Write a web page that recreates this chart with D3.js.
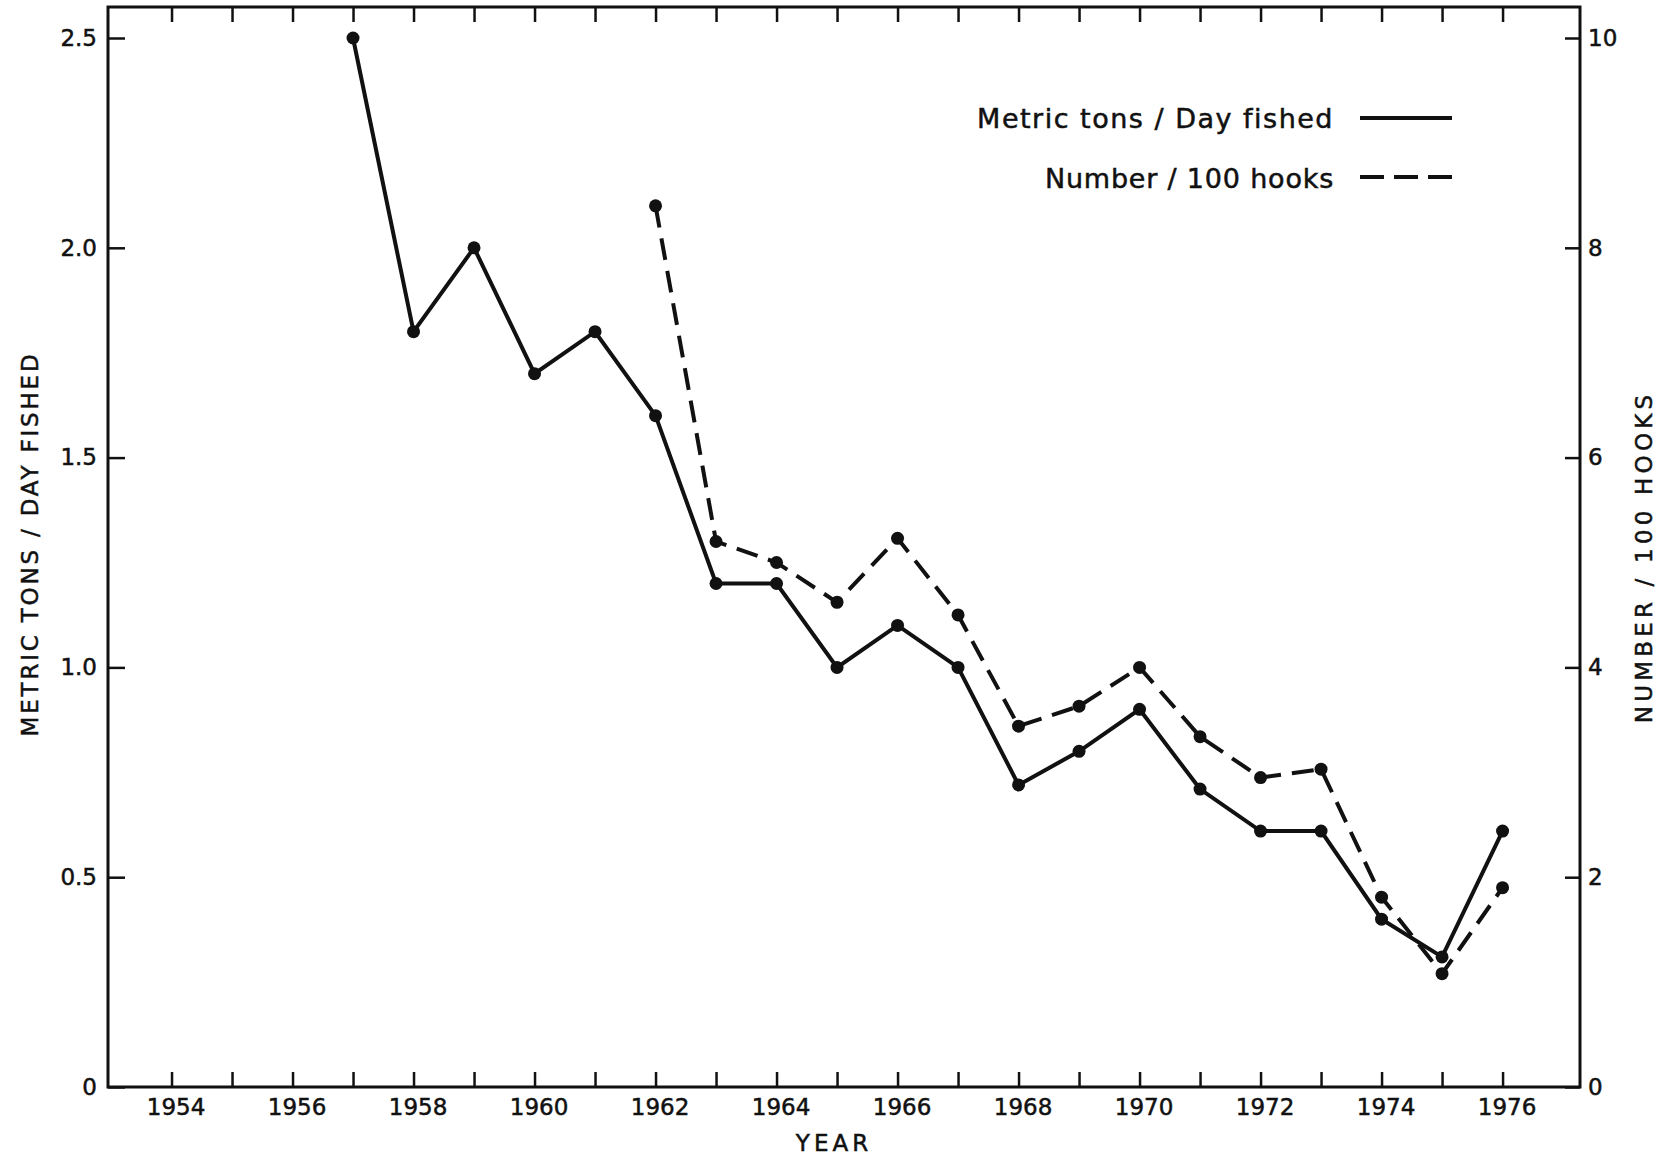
<!DOCTYPE html>
<html>
<head>
<meta charset="utf-8">
<script src="https://cdn.jsdelivr.net/npm/d3@7"></script>
<style>
  body { margin: 0; background: #fff; }
  svg { display: block; }
  text { font-family: "DejaVu Sans", sans-serif; fill: #111; stroke: #111; stroke-width: 0.5; }
</style>
</head>
<body>
<div id="chart"></div>
<script>
// catch per unit of effort
const tonsYears = d3.range(1957, 1977);
const tonsPerDay = [2.5, 1.8, 2.0, 1.7, 1.8, 1.6, 1.2, 1.2, 1.0, 1.1,
                    1.0, 0.72, 0.8, 0.9, 0.71, 0.61, 0.61, 0.4, 0.31, 0.61];
const hookYears = d3.range(1962, 1977);
const perHundredHooks = [8.4, 5.2, 5.0, 4.62, 5.23, 4.5, 3.44, 3.63, 4.0,
                         3.34, 2.95, 3.03, 1.81, 1.08, 1.9];

const yearTicks = d3.range(1954, 1977);
const leftTicks = [0, 0.5, 1.0, 1.5, 2.0, 2.5];
const rightTicks = [0, 2, 4, 6, 8, 10];

const width = 1665, height = 1157;
const plotL = 108, plotR = 1580, plotT = 7, plotB = 1087;

const svg = d3.select('#chart').append('svg')
    .attr('width', width).attr('height', height);

const x = d3.scaleLinear().domain([1952.95, 1977.28]).range([plotL, plotR]);
const yL = d3.scaleLinear().domain([0, 2.5]).range([plotB, 38]);
const yR = d3.scaleLinear().domain([0, 10]).range([plotB, 38]);

// frame
svg.append('rect')
    .attr('x', plotL).attr('y', plotT)
    .attr('width', plotR - plotL).attr('height', plotB - plotT)
    .attr('fill', 'none').attr('stroke', '#111').attr('stroke-width', 3);

function styleAxis(g) {
    g.select('.domain').remove();
    g.selectAll('.tick line').attr('stroke', '#111').attr('stroke-width', 2.5);
    g.selectAll('.tick text').attr('font-size', 23).attr('fill', '#111')
        .attr('font-family', '"DejaVu Sans", sans-serif');
}

svg.append('g').attr('transform', `translate(0,${plotB})`)
    .call(d3.axisBottom(x).tickValues(yearTicks).tickSize(-15).tickPadding(12)
        .tickFormat(d => d % 2 === 0 ? d : ''))
    .call(styleAxis)
    .selectAll('.tick text').attr('dx', 4);

svg.append('g').attr('transform', `translate(0,${plotT})`)
    .call(d3.axisTop(x).tickValues(yearTicks).tickSize(-15).tickFormat(''))
    .call(styleAxis);

svg.append('g').attr('transform', `translate(${plotL},0)`)
    .call(d3.axisLeft(yL).tickValues(leftTicks).tickSize(-17).tickPadding(11)
        .tickFormat(d => d === 0 ? '0' : d3.format('.1f')(d)))
    .call(styleAxis);

svg.append('g').attr('transform', `translate(${plotR},0)`)
    .call(d3.axisRight(yR).tickValues(rightTicks).tickSize(-15).tickPadding(8))
    .call(styleAxis);

// axis titles
svg.append('text')
    .attr('transform', 'translate(38,544) rotate(-90)')
    .attr('text-anchor', 'middle').attr('font-size', 23)
    .attr('letter-spacing', 2.8)
    .text('METRIC TONS / DAY FISHED');

svg.append('text')
    .attr('transform', 'translate(1652,557) rotate(-90)')
    .attr('text-anchor', 'middle').attr('font-size', 23)
    .attr('letter-spacing', 4.2)
    .text('NUMBER / 100 HOOKS');

svg.append('text')
    .attr('x', 834).attr('y', 1151)
    .attr('text-anchor', 'middle').attr('font-size', 23)
    .attr('letter-spacing', 4)
    .text('YEAR');

// series
const tons = tonsYears.map((yr, i) => ({ yr, v: tonsPerDay[i] }));
const hooks = hookYears.map((yr, i) => ({ yr, v: perHundredHooks[i] }));

const lineL = d3.line().x(d => x(d.yr)).y(d => yL(d.v));
const lineR = d3.line().x(d => x(d.yr)).y(d => yR(d.v));

svg.append('path').datum(hooks)
    .attr('d', lineR).attr('fill', 'none')
    .attr('stroke', '#111').attr('stroke-width', 4)
    .attr('stroke-dasharray', '22,11');

svg.append('path').datum(tons)
    .attr('d', lineL).attr('fill', 'none')
    .attr('stroke', '#111').attr('stroke-width', 4);

svg.append('g').selectAll('circle').data(hooks).join('circle')
    .attr('cx', d => x(d.yr)).attr('cy', d => yR(d.v)).attr('r', 6.5)
    .attr('fill', '#111');

svg.append('g').selectAll('circle').data(tons).join('circle')
    .attr('cx', d => x(d.yr)).attr('cy', d => yL(d.v)).attr('r', 6.5)
    .attr('fill', '#111');

// legend
const legend = svg.append('g');
const legendItems = [
    { label: 'Metric tons / Day fished', dash: null, y: 118, base: 128, spacing: 1.5 },
    { label: 'Number / 100 hooks', dash: '24,10', y: 177, base: 188, spacing: 0.8 }
];
legendItems.forEach(item => {
    legend.append('text')
        .attr('x', 1334).attr('y', item.base)
        .attr('text-anchor', 'end').attr('font-size', 27)
        .attr('letter-spacing', item.spacing)
        .text(item.label);
    legend.append('line')
        .attr('x1', 1360).attr('x2', 1452)
        .attr('y1', item.y).attr('y2', item.y)
        .attr('stroke', '#111').attr('stroke-width', 4)
        .attr('stroke-dasharray', item.dash);
});
</script>
</body>
</html>
